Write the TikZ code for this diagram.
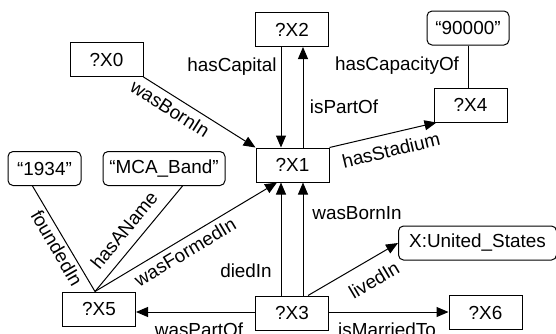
\documentclass[tikz,border=0pt]{standalone}
\usepackage{fontspec}
\setmainfont{Liberation Sans}
\usetikzlibrary{arrows.meta,calc}
\begin{document}
\begin{tikzpicture}[x=1pt,y=-1pt,
  font=\fontsize{18.9}{22}\selectfont,
  var/.style={draw,line width=1pt,minimum width=73pt,minimum height=34pt,inner sep=0pt},
  lit/.style={draw,line width=1pt,rounded corners=5pt,minimum height=34pt,inner sep=0pt},
  arr/.style={line width=1pt,-{Triangle[length=12pt,width=10pt]}},
  ln/.style={line width=1pt},
  lab/.style={inner sep=0pt}]
\useasboundingbox (0,0) rectangle (556,333);
% nodes
\node[var] (X0) at (106.5,59.5) {?X0};
\node[var] (X2) at (292,29.5) {?X2};
\node[lit,minimum width=82pt] (L90) at (468,28) {“90000”};
\node[var] (X4) at (470.5,105) {?X4};
\node[var] (X1) at (292.5,165) {?X1};
\node[lit,minimum width=73pt] (L1934) at (44.5,168.5) {“1934”};
\node[lit,minimum width=122pt] (LMCA) at (164,168.5) {“MCA\_Band”};
\node[var] (X5) at (99,309) {?X5};
\node[var] (X3) at (292,313) {?X3};
\node[lit,minimum width=158pt] (US) at (477.5,243) {X:United\_States};
\node[var] (X6) at (485.5,312.5) {?X6};
% helper coordinates
\coordinate (x5t) at ($(X5.north)+(-4,0)$);
\coordinate (x1bl) at ($(X1.south)+(-11.5,0)$);
\coordinate (x1br) at ($(X1.south)+(10.5,0)$);
\coordinate (x1tl) at ($(X1.north)+(-11.5,0)$);
\coordinate (x1tr) at ($(X1.north)+(10.5,0)$);
\coordinate (x1wf) at ($(X1.south)+(-15.5,0)$);
\coordinate (x3tl) at ($(X3.north)+(-11,0)$);
\coordinate (x3tr) at ($(X3.north)+(11,0)$);
\coordinate (x3lv) at ($(X3.north)+(16,0)$);
% edges
\draw[arr] (X2.south -| x1tl) -- (x1tl);
\draw[arr] (x1tr) -- (X2.south -| x1tr);
\draw[arr] (X0.south east) -- (X1.north west);
\draw[arr] (X1.north east) -- ($(X4.south west)+(3,0)$);
\draw[ln] (L90.south) -- (L90.south |- X4.north);
\draw[ln] ($(L1934.south west)+(25,0)$) -- (x5t);
\draw[ln] ($(LMCA.south west)+(80,0)$) -- (x5t);
\draw[arr] (x5t) -- (x1wf);
\draw[arr] (x3tl) -- (x1bl);
\draw[arr] (x3tr) -- (x1br);
\draw[arr] (x3lv) -- (US.west);
\draw[arr] ($(X3.west)+(0,-1)$) -- ($(X3.west -| X5.east)+(0,-1)$);
\draw[arr] ($(X3.east)+(0,-1)$) -- ($(X3.east -| X6.west)+(0,-1)$);
% labels
\node[lab,rotate=-32.5] (lwb1) at (170,109) {wasBornIn};
\node[lab] (lhc) at (232,67) {hasCapital};
\node[lab] (lip) at (344,107) {isPartOf};
\node[lab] (lcap) at (397,66) {hasCapacityOf};
\node[lab,rotate=13.5] (lhs) at (391,150) {hasStadium};
\node[lab,rotate=-59.9] (lfi) at (57,248) {foundedIn};
\node[lab,rotate=50.6] (lhn) at (124,230) {hasAName};
\node[lab,rotate=30.9] (lwf) at (185,252) {wasFormedIn};
\node[lab] (ldi) at (246,271) {diedIn};
\node[lab] (lwb2) at (357,213) {wasBornIn};
\node[lab,rotate=30.7] (lli) at (374,280) {livedIn};
\node[lab,anchor=base] (lwp) at (199,336.5) {wasPartOf};
\node[lab,anchor=base] (lmt) at (387,336.5) {isMarriedTo};
\end{tikzpicture}
\end{document}
